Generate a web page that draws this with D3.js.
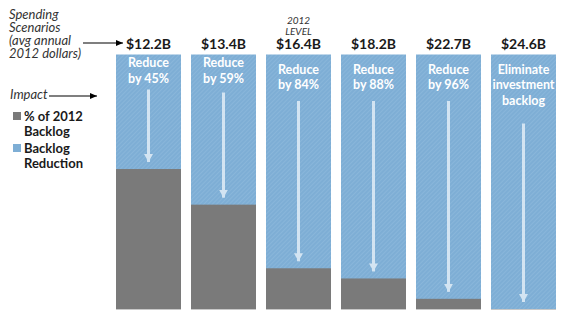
<!DOCTYPE html>
<html>
<head>
<meta charset="utf-8">
<script src="https://cdn.jsdelivr.net/npm/d3@7"></script>
<style>
  html, body { margin: 0; padding: 0; background: #fff; }
  svg { display: block; }
  text { font-family: Lato, "Open Sans", sans-serif; }
</style>
</head>
<body>
<svg id="chart" width="576" height="326"></svg>
<script>
// Spending scenarios (average annual, 2012 dollars)
const scenarios = ["$12.2B", "$13.4B", "$16.4B", "$18.2B", "$22.7B", "$24.6B"];
// Share of the 2012 backlog removed under each scenario
const reductionPct = [45, 59, 84, 88, 96, 100];
// Text written inside each bar
const barLabels = [
  ["Reduce", "by 45%"],
  ["Reduce", "by 59%"],
  ["Reduce", "by 84%"],
  ["Reduce", "by 88%"],
  ["Reduce", "by 96%"],
  ["Eliminate", "investment", "backlog"]
];
const currentLevel = "$16.4B";
const legendItems = [
  { key: "remaining", lines: ["% of 2012", "Backlog"] },
  { key: "reduction", lines: ["Backlog", "Reduction"] }
];

const colors = { remaining: "#7a7a7a", reduction: "#7eaed5", arrow: "#d3e4f2", text: "#1a1a1a" };

const svg = d3.select("#chart");

// Fine diagonal texture on the blue fill
const defs = svg.append("defs");
const pat = defs.append("pattern")
  .attr("id", "hatch").attr("patternUnits", "userSpaceOnUse")
  .attr("width", 3).attr("height", 3).attr("patternTransform", "rotate(45)");
pat.append("rect").attr("width", 3).attr("height", 3).attr("fill", colors.reduction);
pat.append("rect").attr("width", 1).attr("height", 3).attr("fill", "#89b6da");

const arrowDefs = (id, color, w, h) => {
  defs.append("marker").attr("id", id)
    .attr("viewBox", `0 0 ${w} ${h}`).attr("refX", w).attr("refY", h / 2)
    .attr("markerWidth", w).attr("markerHeight", h).attr("markerUnits", "userSpaceOnUse")
    .attr("orient", "auto")
    .append("path").attr("d", `M0,0L${w},${h / 2}L0,${h}Z`).attr("fill", color);
};
arrowDefs("headLight", colors.arrow, 8, 9);
arrowDefs("headDark", "#000", 7, 6);

const x = d3.scaleBand().domain(scenarios).range([116, 556]).paddingInner(10 / 75).paddingOuter(0);
const y = d3.scaleLinear().domain([0, 100]).range([309, 54.5]);

const rows = scenarios.map((s, i) => ({
  scenario: s,
  reduction: reductionPct[i],
  remaining: 100 - reductionPct[i],
  lines: barLabels[i],
  i
}));

const bars = svg.append("g").selectAll("g").data(rows).join("g");

// Blue: full backlog height (reduction portion sits on top)
bars.append("rect")
  .attr("x", d => x(d.scenario)).attr("width", x.bandwidth())
  .attr("y", y(100)).attr("height", y(0) - y(100))
  .attr("fill", "url(#hatch)");

// Gray: remaining share of the 2012 backlog
bars.append("rect")
  .attr("x", d => x(d.scenario)).attr("width", x.bandwidth())
  .attr("y", d => y(d.remaining)).attr("height", d => y(0) - y(d.remaining))
  .attr("fill", colors.remaining);

// Base line under each bar
bars.append("line")
  .attr("x1", d => x(d.scenario)).attr("x2", d => x(d.scenario) + x.bandwidth())
  .attr("y1", y(0) + 0.5).attr("y2", y(0) + 0.5)
  .attr("stroke", "#c8c8c8").attr("stroke-width", 1);

// In-bar labels
const labelTop = d => (d.i < 2 ? 67 : 73.5);
const lineH = 15.5;
bars.each(function (d) {
  const g = d3.select(this);
  const cx = x(d.scenario) + x.bandwidth() / 2;
  g.append("text")
    .attr("text-anchor", "middle").attr("fill", "#fff")
    .attr("font-weight", "bold").attr("font-size", 12.5)
    .selectAll("tspan").data(d.lines).join("tspan")
    .attr("x", cx).attr("y", (t, k) => labelTop(d) + k * lineH)
    .text(t => t);
  const lastBase = labelTop(d) + (d.lines.length - 1) * lineH;
  const startY = lastBase + (d.lines.length > 2 ? 19 : d.i < 2 ? 7 + d.i * 3 : 12);
  g.append("line")
    .attr("x1", cx).attr("x2", cx)
    .attr("y1", startY).attr("y2", y(d.remaining) - 7)
    .attr("stroke", colors.arrow).attr("stroke-width", 3)
    .attr("marker-end", "url(#headLight)");
});

// Scenario amounts above bars
svg.append("g").selectAll("text").data(rows).join("text")
  .attr("x", d => x(d.scenario) + x.bandwidth() / 2).attr("y", 48.5)
  .attr("text-anchor", "middle").attr("font-weight", "bold").attr("font-size", 14)
  .attr("fill", colors.text)
  .text(d => d.scenario);

// Marker for the current (2012) spending level
const lvl = svg.append("text")
  .attr("text-anchor", "middle").attr("font-style", "italic").attr("font-size", 10)
  .attr("fill", "#333");
lvl.selectAll("tspan").data(["2012", "LEVEL"]).join("tspan")
  .attr("x", x(currentLevel) + x.bandwidth() / 2)
  .attr("y", (t, k) => 24 + k * 10.5).text(t => t);

// Left-hand annotations
const left = svg.append("text")
  .attr("font-style", "italic").attr("font-size", 13).attr("fill", "#333");
left.selectAll("tspan").data(["Spending", "Scenarios", "(avg annual", "2012 dollars)"]).join("tspan")
  .attr("x", 9).attr("y", (t, k) => 19 + k * 13).text(t => t);

svg.append("line").attr("x1", 83).attr("x2", 123).attr("y1", 43).attr("y2", 43)
  .attr("stroke", "#000").attr("stroke-width", 1.2).attr("marker-end", "url(#headDark)");

svg.append("text").attr("x", 10).attr("y", 99)
  .attr("font-style", "italic").attr("font-size", 13).attr("fill", "#333").text("Impact");
svg.append("line").attr("x1", 49).attr("x2", 97).attr("y1", 96).attr("y2", 96)
  .attr("stroke", "#000").attr("stroke-width", 1.2).attr("marker-end", "url(#headDark)");

// Legend
const leg = svg.append("g").selectAll("g").data(legendItems).join("g")
  .attr("transform", (d, k) => `translate(0, ${k * 32})`);
leg.append("rect").attr("x", 13).attr("y", 112).attr("width", 8).attr("height", 8)
  .attr("fill", d => colors[d.key]);
leg.append("text").attr("font-weight", "bold").attr("font-size", 13).attr("fill", colors.text)
  .selectAll("tspan").data(d => d.lines).join("tspan")
  .attr("x", 24).attr("y", (t, k) => 120.5 + k * 15.5).text(t => t);
</script>
</body>
</html>
